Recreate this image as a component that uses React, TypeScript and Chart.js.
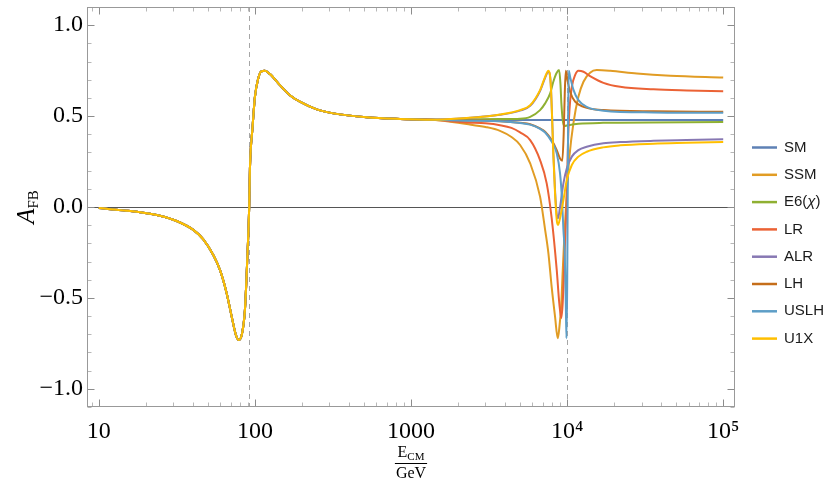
import React, { useEffect, useRef } from "react";
import { Chart, registerables } from "chart.js";

Chart.register(...registerables);

// ---------------- data ----------------
const seriesNames = ["SM", "SSM", "E6(χ)", "LR", "ALR", "LH", "USLH", "U1X"];
const seriesColors = ["#5E81B5", "#E19C24", "#8FB032", "#EB6235", "#8778B3", "#C56E1A", "#5D9EC7", "#FFBF00"];

// shared low-energy part (all models coincide)
const commonEnergy = [10, 15, 19.2, 24.6, 31.5, 40.3, 46.7, 54.1, 59.7, 65.9, 71, 75.5, 78.9, 82.5, 86.3, 89.3, 91.9, 92.9, 96.6, 100, 105, 110, 115.8, 124.8, 144.6, 167.5, 194, 249, 318, 520, 850, 1380];
const commonAfb = [-0.006, -0.02, -0.031, -0.048, -0.077, -0.126, -0.178, -0.264, -0.346, -0.474, -0.603, -0.703, -0.731, -0.7, -0.566, -0.291, 0.0, 0.21, 0.44, 0.606, 0.707, 0.746, 0.749, 0.731, 0.67, 0.615, 0.579, 0.537, 0.515, 0.493, 0.484, 0.48];

const smEnergy = [2275, 5000, 10000, 30000, 100000];
const smAfb = [0.479, 0.478, 0.478, 0.478, 0.478];

const ssmEnergy = [2275, 3000, 3715, 4400, 5000, 5800, 6710, 7230, 7590, 7960, 8370, 8710, 8890, 9180, 9380, 9600, 9800, 9950, 10345, 10970, 11810, 12730, 14030, 15470, 18880, 27990, 45800, 100000];
const ssmAfb = [0.456, 0.44, 0.419, 0.385, 0.341, 0.24, 0.057, -0.126, -0.255, -0.438, -0.603, -0.722, -0.676, -0.53, -0.346, -0.163, -0.02, 0.077, 0.277, 0.46, 0.606, 0.689, 0.738, 0.753, 0.749, 0.734, 0.722, 0.712];

const e6Energy = [2275, 3715, 5000, 5800, 6710, 7230, 7790, 8160, 8580, 8887, 9060, 9190, 9375, 9560, 10190, 11810, 17000, 100000];
const e6Afb = [0.482, 0.484, 0.486, 0.496, 0.533, 0.57, 0.625, 0.689, 0.738, 0.753, 0.68, 0.57, 0.478, 0.445, 0.45, 0.458, 0.463, 0.467];

const lrEnergy = [2275, 3000, 3715, 4400, 5000, 5800, 6710, 7400, 7960, 8580, 8910, 9180, 9370, 9560, 9750, 9950, 10100, 10350, 10720, 11250, 11810, 12730, 14030, 17090, 21880, 35750, 58460, 100000];
const lrAfb = [0.465, 0.46, 0.45, 0.435, 0.41, 0.368, 0.258, 0.13, -0.06, -0.346, -0.529, -0.611, -0.529, -0.346, -0.145, 0.05, 0.313, 0.533, 0.661, 0.725, 0.749, 0.744, 0.72, 0.683, 0.661, 0.647, 0.641, 0.637];

const alrEnergy = [2275, 3715, 5000, 5800, 6710, 7230, 7590, 7850, 8010, 8170, 8370, 8580, 8750, 9010, 9470, 9950, 10720, 11810, 13350, 17090, 21880, 35750, 58000, 100000];
const alrAfb = [0.489, 0.507, 0.53, 0.556, 0.638, 0.71, 0.745, 0.68, 0.5, 0.29, 0.09, -0.04, -0.062, 0.0, 0.13, 0.212, 0.277, 0.313, 0.331, 0.35, 0.357, 0.364, 0.368, 0.372];

const lhEnergy = [2275, 3715, 5000, 5800, 6710, 7230, 7960, 8580, 9010, 9320, 9510, 9660, 9810, 10050, 10450, 11250, 12730, 17090, 35750, 100000];
const lhAfb = [0.476, 0.472, 0.463, 0.455, 0.432, 0.414, 0.368, 0.313, 0.267, 0.255, 0.405, 0.625, 0.749, 0.698, 0.634, 0.579, 0.551, 0.533, 0.526, 0.524];

const uslhEnergy = [2275, 3715, 5000, 5800, 6710, 7230, 7960, 8580, 9010, 9280, 9470, 9660, 9810, 9900, 10010, 10050, 10100, 10150, 10250, 10450, 11000, 11810, 13350, 17090, 35750, 100000];
const uslhAfb = [0.475, 0.471, 0.462, 0.453, 0.43, 0.41, 0.36, 0.295, 0.185, 0.038, -0.126, -0.255, -0.53, -0.722, -0.438, -0.19, 0.13, 0.496, 0.749, 0.716, 0.643, 0.588, 0.551, 0.53, 0.52, 0.518];

const u1xEnergy = [2275, 3000, 3715, 4400, 5000, 5800, 6710, 7230, 7590, 7850, 8010, 8170, 8370, 8580, 8750, 9010, 9250, 9470, 9950, 10720, 11810, 13350, 17000, 21880, 35750, 58000, 100000];
const u1xAfb = [0.49, 0.498, 0.509, 0.52, 0.533, 0.56, 0.643, 0.716, 0.749, 0.68, 0.496, 0.277, 0.075, -0.071, -0.099, -0.06, -0.01, 0.038, 0.148, 0.231, 0.277, 0.304, 0.328, 0.339, 0.348, 0.353, 0.358];

const xTickValues = [10, 100, 1000, 10000, 100000];
const xTickLabels = ["10", "100", "1000", "10⁴", "10⁵"];
const yTickValues = [-1, -0.5, 0, 0.5, 1];
const yTickLabels = ["−1.0", "−0.5", "0.0", "0.5", "1.0"];
const markerEnergies = [91.1876, 10000];
const xMin = 8.4;
const xMax = 119000;
const yMin = -1.1;
const yMax = 1.1;

const modelTails: [number[], number[]][] = [
  [smEnergy, smAfb],
  [ssmEnergy, ssmAfb],
  [e6Energy, e6Afb],
  [lrEnergy, lrAfb],
  [alrEnergy, alrAfb],
  [lhEnergy, lhAfb],
  [uslhEnergy, uslhAfb],
  [u1xEnergy, u1xAfb],
];

const toPoints = (xs: number[], ys: number[]) => xs.map((x, i) => ({ x, y: ys[i] }));

const SERIF = "'Liberation Serif', 'Times New Roman', serif";
const SANS = "'Liberation Sans', Arial, sans-serif";

const decorPlugin = {
  id: "decor",
  beforeDatasetsDraw(chart: any) {
    const { ctx, chartArea: a, scales } = chart;
    const x = scales.x;
    const y = scales.y;
    ctx.save();
    const y0 = Math.round(y.getPixelForValue(0)) + 0.5;
    ctx.strokeStyle = "#555555";
    ctx.lineWidth = 1;
    ctx.beginPath();
    ctx.moveTo(a.left, y0);
    ctx.lineTo(a.right, y0);
    ctx.stroke();
    ctx.strokeStyle = "#a6a6a6";
    ctx.setLineDash([5, 4]);
    for (const v of markerEnergies) {
      const px = Math.round(x.getPixelForValue(v)) + 0.5;
      ctx.beginPath();
      ctx.moveTo(px, a.top);
      ctx.lineTo(px, a.bottom);
      ctx.stroke();
    }
    ctx.restore();
  },
  afterDraw(chart: any) {
    const { ctx, chartArea: a, scales } = chart;
    const x = scales.x;
    const y = scales.y;
    ctx.save();
    const L = Math.round(a.left) + 0.5;
    const R = Math.round(a.right) - 0.5;
    const T = Math.round(a.top) + 0.5;
    const B = Math.round(a.bottom) - 0.5;
    const tick = (px: number, major: boolean, vertical: boolean) => {
      const len = major ? 7 : 4;
      ctx.strokeStyle = major ? "#8c8c8c" : "#b8b8b8";
      ctx.lineWidth = 1;
      ctx.beginPath();
      const p = Math.round(px) + 0.5;
      if (vertical) {
        ctx.moveTo(p, B); ctx.lineTo(p, B - len);
        ctx.moveTo(p, T); ctx.lineTo(p, T + len);
      } else {
        ctx.moveTo(L, p); ctx.lineTo(L + len, p);
        ctx.moveTo(R, p); ctx.lineTo(R - len, p);
      }
      ctx.stroke();
    };
    for (let d = 0; d <= 5; d++) {
      for (let k = 1; k <= 9; k++) {
        const v = k * Math.pow(10, d);
        if (v < xMin || v > xMax) continue;
        tick(x.getPixelForValue(v), k === 1, true);
      }
    }
    for (let i = -11; i <= 11; i++) {
      tick(y.getPixelForValue(i / 10), i % 5 === 0, false);
    }
    ctx.strokeStyle = "#999999";
    ctx.lineWidth = 1;
    ctx.strokeRect(L, T, R - L, B - T);

    // y title: A_FB
    ctx.fillStyle = "#000";
    ctx.save();
    ctx.translate(34, (a.top + a.bottom) / 2);
    ctx.rotate(-Math.PI / 2);
    ctx.font = `italic 25px ${SERIF}`;
    const wA = ctx.measureText("A").width;
    ctx.font = `15px ${SERIF}`;
    const wFB = ctx.measureText("FB").width;
    const start = -(wA + wFB) / 2;
    ctx.textBaseline = "alphabetic";
    ctx.textAlign = "left";
    ctx.font = `italic 25px ${SERIF}`;
    ctx.fillText("A", start, 0);
    ctx.font = `15px ${SERIF}`;
    ctx.fillText("FB", start + wA, 4);
    ctx.restore();

    // x title: E_CM / GeV
    const cx = (a.left + a.right) / 2;
    ctx.textBaseline = "alphabetic";
    ctx.textAlign = "left";
    ctx.font = `16px ${SERIF}`;
    const wE = ctx.measureText("E").width;
    ctx.font = `11px ${SERIF}`;
    const wCM = ctx.measureText("CM").width;
    const numW = wE + wCM;
    ctx.font = `16px ${SERIF}`;
    ctx.fillText("E", cx - numW / 2, 457);
    ctx.font = `11px ${SERIF}`;
    ctx.fillText("CM", cx - numW / 2 + wE, 460);
    ctx.font = `16px ${SERIF}`;
    const wG = ctx.measureText("GeV").width;
    const lineW = Math.max(numW, wG) + 2;
    ctx.strokeStyle = "#000";
    ctx.beginPath();
    ctx.moveTo(cx - lineW / 2, 463.5);
    ctx.lineTo(cx + lineW / 2, 463.5);
    ctx.stroke();
    ctx.fillText("GeV", cx - wG / 2, 478);

    // legend
    const lx = 752;
    const ly0 = 147.5;
    const step = 27.3;
    seriesNames.forEach((name, i) => {
      const yy = ly0 + i * step;
      ctx.strokeStyle = seriesColors[i];
      ctx.lineWidth = 2.5;
      ctx.beginPath();
      ctx.moveTo(lx, yy);
      ctx.lineTo(lx + 25, yy);
      ctx.stroke();
      ctx.fillStyle = "#1a1a1a";
      ctx.textBaseline = "middle";
      ctx.textAlign = "left";
      if (name === "E6(χ)") {
        ctx.font = `15px ${SANS}`;
        const w1 = ctx.measureText("E6(").width;
        ctx.fillText("E6(", lx + 32, yy);
        ctx.font = `italic 15px ${SANS}`;
        const w2 = ctx.measureText("χ").width;
        ctx.fillText("χ", lx + 32 + w1, yy);
        ctx.font = `15px ${SANS}`;
        ctx.fillText(")", lx + 32 + w1 + w2, yy);
      } else {
        ctx.font = `15px ${SANS}`;
        ctx.fillText(name, lx + 32, yy);
      }
    });
    ctx.restore();
  },
};

export default function App() {
  const canvasRef = useRef<HTMLCanvasElement | null>(null);

  useEffect(() => {
    const canvas = canvasRef.current;
    if (!canvas) return;
    const datasets = seriesNames
      .map((name, i) => ({
        label: name,
        data: [...toPoints(commonEnergy, commonAfb), ...toPoints(modelTails[i][0], modelTails[i][1])],
        borderColor: seriesColors[i],
        backgroundColor: seriesColors[i],
        borderWidth: 2,
        pointRadius: 0,
        pointHoverRadius: 0,
        fill: false,
        cubicInterpolationMode: "monotone" as const,
      }))
      .reverse();

    const chart = new Chart(canvas, {
      type: "line",
      data: { datasets },
      options: {
        animation: false,
        responsive: false,
        maintainAspectRatio: false,
        events: [],
        layout: { padding: { left: 0, right: 95, top: 7, bottom: 0 } },
        plugins: { legend: { display: false }, tooltip: { enabled: false } },
        scales: {
          x: {
            type: "logarithmic",
            min: xMin,
            max: xMax,
            grid: { display: false, drawTicks: false },
            border: { display: false },
            afterBuildTicks: (scale: any) => {
              scale.ticks = xTickValues.map((v) => ({ value: v }));
            },
            afterFit: (scale: any) => {
              scale.height = 81;
              scale.paddingLeft = 0;
              scale.paddingRight = 0;
            },
            ticks: {
              autoSkip: false,
              maxRotation: 0,
              minRotation: 0,
              padding: 10,
              color: "#000",
              font: { family: SERIF, size: 24 },
              callback: (_v: any, i: number) => xTickLabels[i],
            },
          },
          y: {
            type: "linear",
            min: yMin,
            max: yMax,
            grid: { display: false, drawTicks: false },
            border: { display: false },
            afterBuildTicks: (scale: any) => {
              scale.ticks = yTickValues.map((v) => ({ value: v }));
            },
            afterFit: (scale: any) => {
              scale.width = 87;
              scale.paddingTop = 0;
              scale.paddingBottom = 0;
            },
            ticks: {
              autoSkip: false,
              padding: 4,
              color: "#000",
              font: { family: SERIF, size: 24 },
              callback: (_v: any, i: number) => yTickLabels[i],
            },
          },
        },
      },
      plugins: [decorPlugin],
    });
    return () => chart.destroy();
  }, []);

  return (
    <div style={{ position: "fixed", left: 0, top: 0, width: 830, height: 488, background: "#fff" }}>
      <canvas ref={canvasRef} width={830} height={488} style={{ display: "block" }} />
    </div>
  );
}
